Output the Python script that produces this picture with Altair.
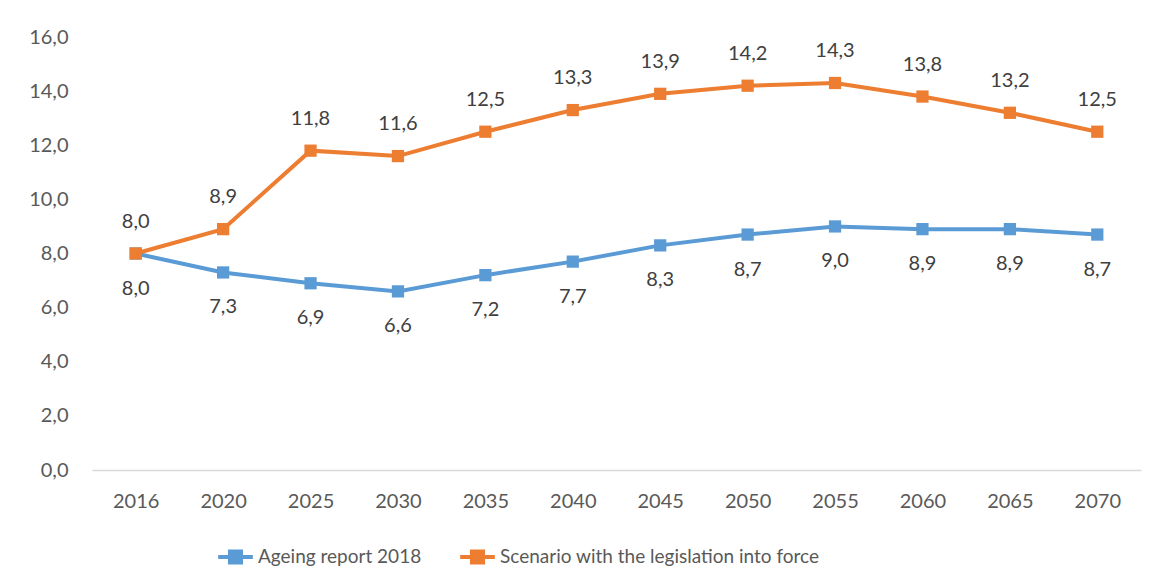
import altair as alt
import pandas as pd

years = ["2016", "2020", "2025", "2030", "2035", "2040", "2045", "2050", "2055", "2060", "2065", "2070"]
ageing_report = [8.0, 7.3, 6.9, 6.6, 7.2, 7.7, 8.3, 8.7, 9.0, 8.9, 8.9, 8.7]
scenario = [8.0, 8.9, 11.8, 11.6, 12.5, 13.3, 13.9, 14.2, 14.3, 13.8, 13.2, 12.5]
series_names = ["Ageing report 2018", "Scenario with the legislation into force"]
series_colors = ["#5B9BD5", "#ED7D31"]
y_ticks = [0, 2, 4, 6, 8, 10, 12, 14, 16]

rows = []
for i, yr in enumerate(years):
    rows.append({"year": yr, "series": series_names[0], "value": ageing_report[i]})
    rows.append({"year": yr, "series": series_names[1], "value": scenario[i]})
df = pd.DataFrame(rows)

FONT = "Lato"
TXT = "#595959"

base = alt.Chart(df).transform_calculate(
    label="replace(format(datum.value, '.1f'), '.', ',')"
)

x = alt.X("year:N", sort=years, title=None,
          scale=alt.Scale(type="point", padding=0.5),
          axis=alt.Axis(labelAngle=0, ticks=False, domain=True, domainColor="#D9D9D9",
                        domainWidth=1.5, labelFontSize=20, labelFont=FONT, labelColor=TXT,
                        labelPadding=21, grid=False))
y = alt.Y("value:Q", title=None,
          scale=alt.Scale(domain=[0, 16], nice=False),
          axis=alt.Axis(values=y_ticks, domain=False, ticks=False, grid=False,
                        labelExpr="replace(format(datum.value, '.1f'), '.', ',')",
                        labelFontSize=20, labelFont=FONT, labelColor=TXT, labelPadding=24))
color = alt.Color("series:N", title=None,
                  scale=alt.Scale(domain=series_names, range=series_colors),
                  legend=alt.Legend(orient="none", legendX=124, legendY=500, direction="horizontal",
                                    symbolType="M-1,0L1,0M-0.32,-0.32L0.32,-0.32L0.32,0.32L-0.32,0.32Z",
                                    symbolSize=1200, symbolStrokeWidth=4,
                                    labelFont=FONT, labelFontSize=19, labelColor=TXT,
                                    labelLimit=0, columnPadding=30, labelOffset=3))

lines = base.mark_line(strokeWidth=4).encode(x=x, y=y, color=color)
points = base.mark_point(shape="square", filled=True, size=150, opacity=1).encode(
    x=x, y=y, color=alt.Color("series:N", scale=alt.Scale(domain=series_names, range=series_colors), legend=None))

labels_top = base.transform_filter(alt.datum.series == series_names[1]).mark_text(
    dy=-32, font=FONT, fontSize=20, color="#404040").encode(x=x, y=y, text="label:N")
labels_bottom = base.transform_filter(alt.datum.series == series_names[0]).mark_text(
    dy=35, font=FONT, fontSize=20, color="#404040").encode(x=x, y=y, text="label:N")

chart = alt.layer(lines, points, labels_top, labels_bottom).properties(
    width=1049, height=433,
    autosize=alt.AutoSizeParams(type="none"),
    padding={"left": 84, "top": 29, "right": 10, "bottom": 100},
    background="white",
    view=alt.ViewBackground(stroke="transparent", strokeWidth=0),
).configure_view(strokeWidth=0, stroke="transparent")

chart.save("out.html", embed_options={"renderer": "svg", "actions": False})
